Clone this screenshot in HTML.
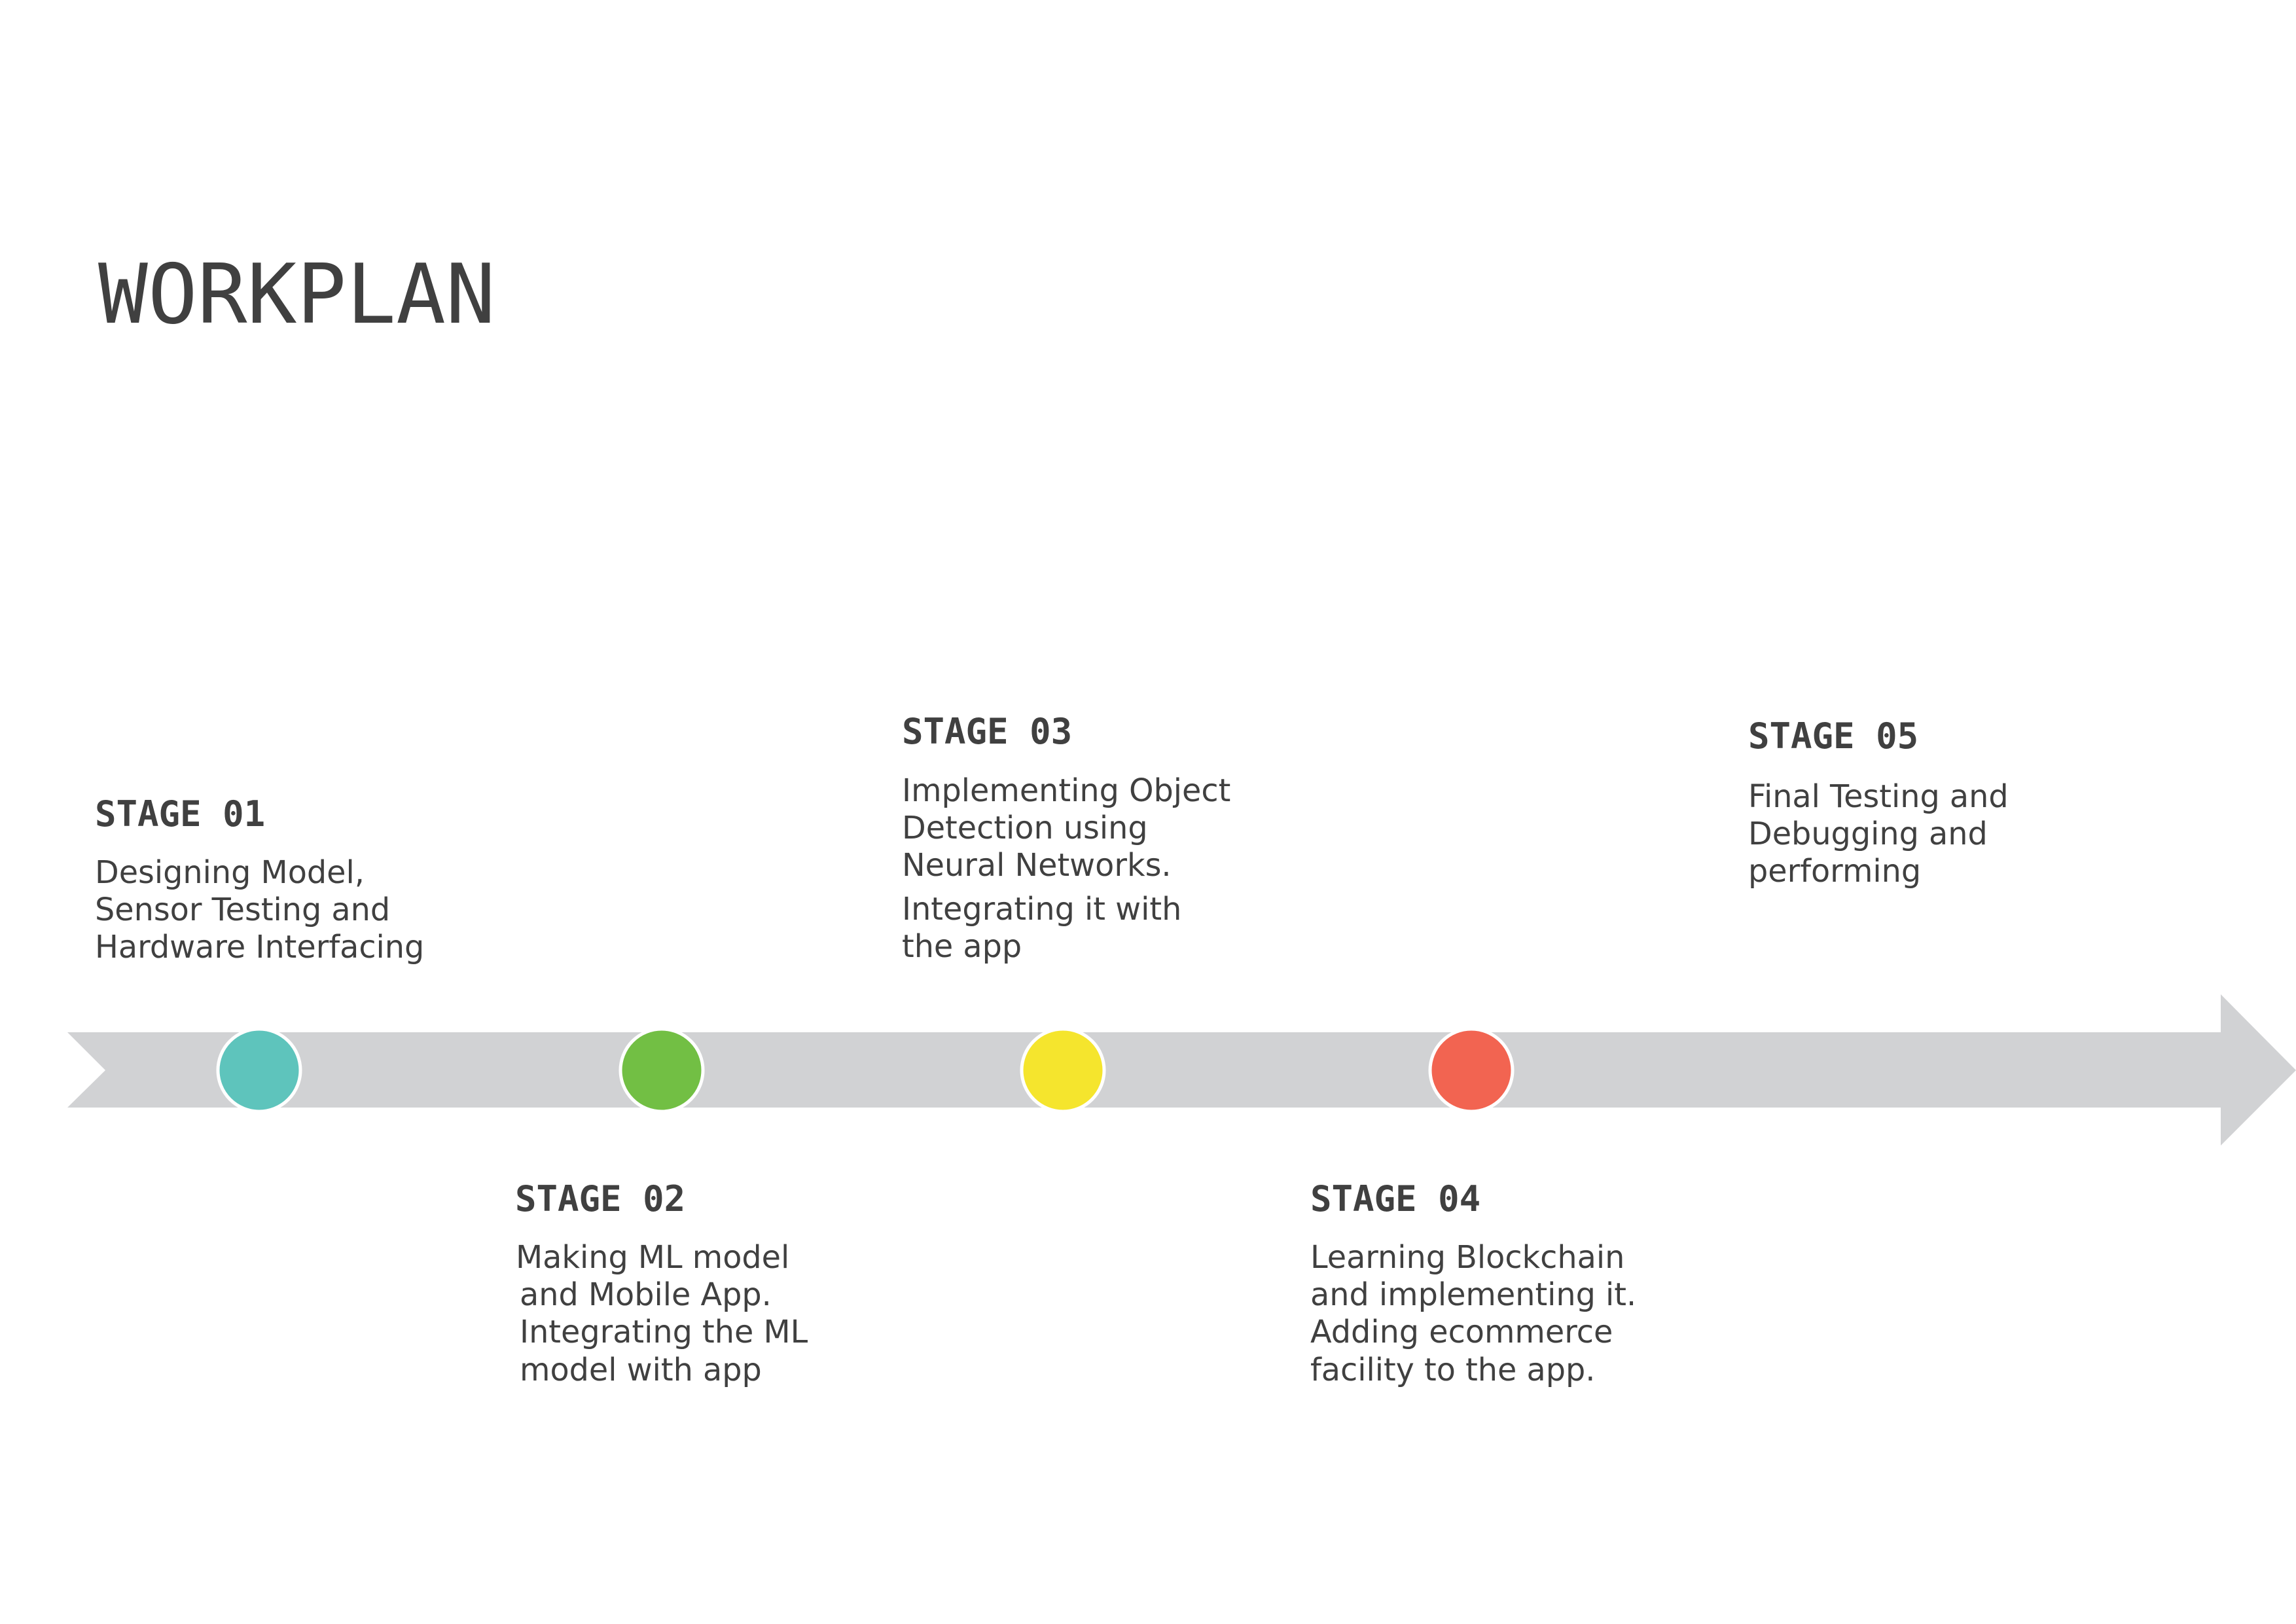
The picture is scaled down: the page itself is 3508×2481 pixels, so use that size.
<!DOCTYPE html>
<html>
<head>
<meta charset="utf-8">
<style>
  html,body{margin:0;padding:0;background:#fff;}
  svg{display:block;}
  .title{font-family:"DejaVu Sans Mono","Liberation Mono",monospace;font-size:126px;fill:#404040;}
  .head{font-family:"DejaVu Sans Mono","Liberation Mono",monospace;font-weight:bold;font-size:54px;fill:#404040;}
  .body{font-family:"DejaVu Sans","Liberation Sans",sans-serif;font-size:47.7px;fill:#404040;}
</style>
</head>
<body>
<svg width="3508" height="2481" viewBox="0 0 3508 2481" xmlns="http://www.w3.org/2000/svg">
  <rect x="0" y="0" width="3508" height="2481" fill="#ffffff"/>
  <text class="title" x="150" y="493">WORKPLAN</text>

  <polygon fill="#d1d2d4"
    points="103,1577 3393,1577 3393,1519 3508,1635 3393,1750 3393,1692 103,1692 161,1635"/>

  <g id="circles"></g>

  <g>
    <text class="head" x="145" y="1262">STAGE 01</text>
    <text class="body" x="145" y="1349">Designing Model,</text>
    <text class="body" x="145" y="1406">Sensor Testing and</text>
    <text class="body" x="145" y="1463">Hardware Interfacing</text>
  </g>

  <g>
    <text class="head" x="787" y="1850">STAGE 02</text>
    <text class="body" x="788" y="1937">Making ML model</text>
    <text class="body" x="794" y="1994">and Mobile App.</text>
    <text class="body" x="794" y="2051">Integrating the ML</text>
    <text class="body" x="794" y="2109">model with app</text>
  </g>

  <g>
    <text class="head" x="1378" y="1136">STAGE 03</text>
    <text class="body" x="1378" y="1224">Implementing Object</text>
    <text class="body" x="1378" y="1281">Detection using</text>
    <text class="body" x="1378" y="1338">Neural Networks.</text>
    <text class="body" x="1378" y="1405">Integrating it with</text>
    <text class="body" x="1378" y="1462">the app</text>
  </g>

  <g>
    <text class="head" x="2002" y="1850">STAGE 04</text>
    <text class="body" x="2002" y="1937">Learning Blockchain</text>
    <text class="body" x="2002" y="1994">and implementing it.</text>
    <text class="body" x="2002" y="2051">Adding ecommerce</text>
    <text class="body" x="2002" y="2109">facility to the app.</text>
  </g>

  <g>
    <text class="head" x="2671" y="1143">STAGE 05</text>
    <text class="body" x="2671" y="1233">Final Testing and</text>
    <text class="body" x="2671" y="1290">Debugging and</text>
    <text class="body" x="2671" y="1347">performing</text>
  </g>
</svg>
<script>
  const stagePositions = [396, 1011, 1624, 2248];
  const stageColors = ["#5ec4bc", "#72bf44", "#f5e52d", "#f26451"];
  const stageNames = ["stage-01-marker", "stage-02-marker", "stage-03-marker", "stage-04-marker"];
  const g = document.getElementById('circles');
  for (let i = 0; i < stagePositions.length; i++) {
    const c = document.createElementNS('http://www.w3.org/2000/svg', 'circle');
    c.setAttribute('cx', stagePositions[i]);
    c.setAttribute('cy', 1635);
    c.setAttribute('r', 63);
    c.setAttribute('fill', stageColors[i]);
    c.setAttribute('stroke', '#ffffff');
    c.setAttribute('stroke-width', 5);
    
    
    g.appendChild(c);
  }
</script>
</body>
</html>
